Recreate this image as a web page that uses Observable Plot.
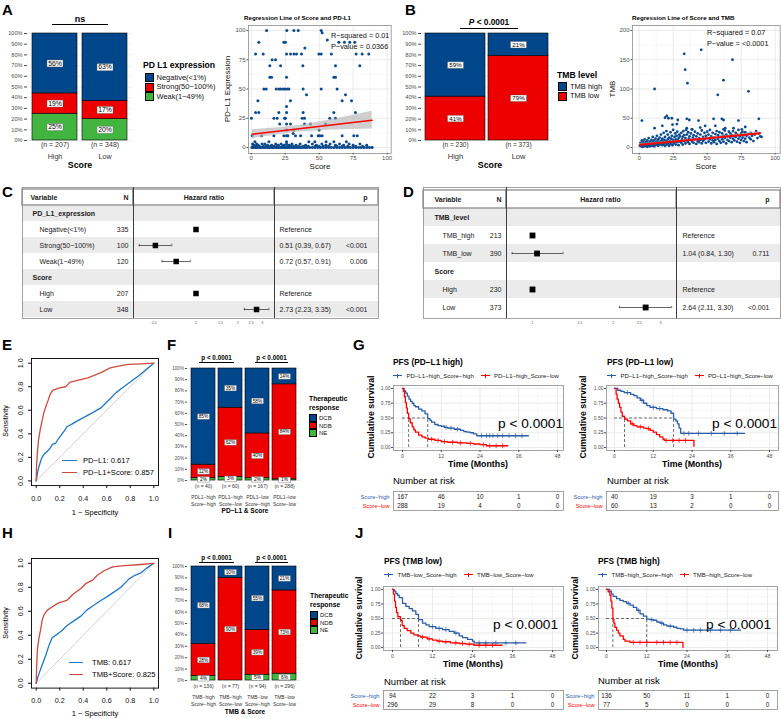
<!DOCTYPE html>
<html>
<head>
<meta charset="utf-8">
<script src="https://cdn.jsdelivr.net/npm/d3@7"></script>
<script src="https://cdn.jsdelivr.net/npm/@observablehq/plot@0.6"></script>
<style>
  html, body { margin: 0; padding: 0; background: #fff; }
  #root { position: relative; width: 781px; height: 719px; overflow: hidden; background: #fff;
          font-family: "Liberation Sans", Arial, Helvetica, sans-serif; color: #000; }
  .t { position: absolute; white-space: nowrap; line-height: 1; }
</style>
</head>
<body>
<div id="root"></div>
<script>
// ======================= DATA =======================
// Panel A : PD-L1 expression by Score group
const scoreGroups = ["High", "Low"];
const pdl1Types = ["Weak(1−49%)", "Strong(50−100%)", "Negative(<1%)"];   // stack bottom -> top
const pdl1Colors = ["#42B540", "#ED0000", "#00468B"];
const pdl1N = [207, 348];
const pdl1Weak = [25, 20];
const pdl1Strong = [19, 17];
const pdl1Negative = [56, 63];
const pdl1LegendLabels = ["Negative(<1%)", "Strong(50−100%)", "Weak(1−49%)"];

// Panel B : TMB level by Score group
const tmbTypes = ["TMB low", "TMB high"];   // bottom -> top
const tmbColors = ["#ED0000", "#00468B"];
const tmbN = [230, 373];
const tmbLow = [41, 79];
const tmbHigh = [59, 21];

// Scatter: Score vs PD-L1 expression
const pdl1Points = [
  [11.3,100],[26.2,100],[31.4,100],[34.6,100],[51.5,100],[52.2,98],[56,92],
  [5.6,90],[24,90],[25.2,90],[64.5,90],[68.6,90],[72.5,90],[76.2,90],[39.5,85],
  [3.2,80],[8.8,80],[26,80],[28.9,80],[31.4,80],[33.3,80],[37,80],[49.8,80],[51.5,80],[59,80],[77.2,80],[81.6,80],[86.5,80],
  [15.4,75],[17.9,75],[13.7,70],[21.6,70],[38,70],[62,70],[79.9,70],
  [13.7,60],[15,60],[26,60],[60.8,60],[62,60],
  [9.3,50],[11,50],[18.4,50],[20.3,50],[21.6,50],[23.3,50],[24.8,50],[26.5,50],[27.7,50],[38.2,50],[51.5,50],[63.2,50],
  [40.7,45],[69.4,45],[4.9,40],[28.9,40],[66.9,40],[73.8,40],[26,35],
  [3.2,30],[5.6,30],[20.3,30],[26,30],[38.2,30],[60.8,30],[76.7,30],
  [0.2,25],[16.7,25],[19.1,25],[24.5,25],[25.2,25],[37.5,25],[39.2,25],[57.8,25],[62,25],
  [21,20],[26,20],[28.9,20],[39.2,20],[43.6,20],[54.7,20],[26,15],[31.4,15],[50,15],[30.9,12],
  [0.7,10],[7.6,10],[16.7,10],[24,10],[26,10],[27,10],[32.6,10],[36.3,10],[44.4,10],[49.3,10],[50.5,10],[52.2,10],[66.9,10],[75.5,10],[78,10],
  [2.7,5],[13,5],[26,5],[42.4,5],[46.8,5],[55.1,5],[60.8,5],[70,5],
  [1,3],[4,3],[8,3],[10,3],[18,3],[22,3],[26,3],[30,3],[36,3],[45,3],[52,3],[58,3],[65,3],[72,3],[80,3],
  [2,2],[5,2],[12,2],[15,2],[20,2],[24,2],[28,2],[33,2],[40,2],[48,2],[55,2],[62,2],[68,2],[75,2],[85,2],
  [1.5,1],[3.5,1],[6,1],[9,1],[11,1],[14,1],[17,1],[19,1],[23,1],[25,1],[27,1],[29,1],[31,1],[35,1],[38,1],[42,1],[47,1],[50,1],[53,1],[57,1],[63,1],[67,1],[71,1],[77,1],[82,1],
  [0.5,0],[1.5,0],[2.5,0],[3.5,0],[4.5,0],[6,0],[7,0],[8,0],[9.5,0],[10.5,0],[12,0],[13,0],[14,0],[15.5,0],[16.5,0],[18,0],[19,0],[20,0],[21.5,0],[22.5,0],
  [24,0],[25,0],[26,0],[27,0],[28,0],[29.5,0],[31,0],[32,0],[33.5,0],[35,0],[36.5,0],[38,0],[39.5,0],[41,0],[43,0],[45,0],[47,0],[49,0],[51,0],[53,0],
  [55,0],[57,0],[59,0],[61,0],[63,0],[65,0],[67,0],[69,0],[71,0],[73,0],[75,0],[77,0],[79,0],[81,0],[83,0],[85,0],[87,0],[89,0]
];
const pdl1Reg = [[0.7, 11.4], [89, 23.4]];
const pdl1Band = [[0.7, 7.6, 15.2], [20, 11, 17], [35, 13.2, 18.8], [60, 14.9, 23.9], [89, 15.9, 30.9]];

// Scatter: Score vs TMB
const tmbPoints = [
  [33.1,160],[45.6,167],[33.8,133],[68.6,150],[35.5,110],[62,115],[11.3,100],[80.4,96],[57.8,90],
  [2,46],[19,51],[20.3,54],[21.5,50],[24,50],[28.4,47],[35,49],[36.8,47],[43.6,46],[54.7,49],[60.8,49],[62,47],[73,46],[88,49],
  [11.3,33],[24.5,39],[17,37],[27.7,40],[35,33],[38.7,31],[44.9,34],[48.5,37],[56,37],[62,31],[63.2,33],[69.4,33],[78,35],[75.5,31],
  [0.5,3],[1,8],[1.5,2],[2,5],[2,12],[2.5,1],[3,6],[3,10],[3.5,4],[4,2],[4,14],[4.5,7],[5,3],[5,9],[5.5,5],[6,12],[6,1],[6.5,8],[7,4],[7,16],
  [7.5,6],[8,10],[8,2],[8.5,5],[9,13],[9,7],[9.5,3],[10,9],[10,18],[10.5,5],
  [11,2],[11,12],[11.5,7],[12,4],[12,15],[12.5,9],[13,20],[13,6],[13.5,11],[14,3],[14,14],[14.5,8],[15,17],[15,5],[15.5,10],[16,22],[16,7],[16.5,12],[17,4],[17,15],
  [17.5,9],[18,25],[18,6],[18.5,13],[19,3],[19,18],[19.5,8],[20,11],[20,28],[20.5,5],
  [21,14],[21,22],[21.5,8],[22,17],[22,3],[22.5,11],[23,26],[23,6],[23.5,15],[24,9],[24,20],[24.5,4],[25,13],[25,30],[25.5,7],[26,18],[26,10],[26.5,24],[27,5],[27,14],
  [27.5,20],[28,9],[28,27],[28.5,12],[29,16],[29,4],[29.5,22],[30,10],[30,19],
  [31,8],[31,25],[31.5,14],[32,5],[32,18],[32.5,28],[33,11],[33,21],[34,7],[34,16],[34.5,30],[35,12],[35,22],[36,9],[36,26],[36.5,15],[37,6],[37,19],[38,13],[38,24],
  [39,10],[39,31],[39.5,17],[40,8],[40,21],
  [41,14],[41,27],[42,6],[42,19],[43,11],[43,24],[44,16],[44,9],[45,22],[45,13],[46,7],[46,29],[47,18],[47,11],[48,25],[48,14],[49,8],[49,20],[50,16],[50,27],
  [51,10],[51,22],[52,14],[52,30],[53,7],[53,19],[54,12],[54,25],[55,17],[55,9],[56,23],[56,13],[57,28],[57,6],[58,15],[58,21],[59,11],[59,26],[60,18],[60,8],
  [61,14],[61,24],[62,20],[62,10],[63,29],[63,16],[64,7],[64,22],[65,13],[65,19],[66,27],[66,11],[67,17],[67,24],[68,9],[68,21],[69,15],[69,28],[70,12],[70,20],
  [71,18],[71,25],[72,10],[72,22],[73,15],[73,30],[74,8],[74,19],[75,24],[75,13],[76,17],[76,27],[77,11],[77,21],[78,26],[78,15],[79,20],[79,9],[80,23],
  [81,17],[82,14],[82,25],[83,20],[84,11],[85,22],[86,28],[87,16],[88,24],[89,19],[90,18]
];
const tmbReg = [[0.7, 4.6], [89, 24.5]];
const tmbBand = [[0.7, 2.4, 6.8], [30, 10.0, 12.4], [60, 16.8, 19.2], [89, 21.9, 27.1]];

// Panel C forest (PD-L1)
const forestCVars = ["PD_L1_expression", "Negative(<1%)", "Strong(50−100%)", "Weak(1−49%)", "Score", "High", "Low"];
const forestCGroup = [true, false, false, false, true, false, false];
const forestCN = [null, 335, 100, 120, null, 207, 348];
const forestCHR = [null, 1, 0.51, 0.72, null, 1, 2.73];
const forestCLo = [null, null, 0.39, 0.57, null, null, 2.23];
const forestCHi = [null, null, 0.67, 0.91, null, null, 3.35];
const forestCP = ["", "", "<0.001", "0.006", "", "", "<0.001"];
const forestCTicks = [0.5, 1, 1.5, 2, 2.5, 3];

// Panel D forest (TMB)
const forestDVars = ["TMB_level", "TMB_high", "TMB_low", "Score", "High", "Low"];
const forestDGroup = [true, false, false, true, false, false];
const forestDN = [null, 213, 390, null, 230, 373];
const forestDHR = [null, 1, 1.04, null, 1, 2.64];
const forestDLo = [null, null, 0.84, null, null, 2.11];
const forestDHi = [null, null, 1.30, null, null, 3.30];
const forestDP = ["", "", "0.711", "", "", "<0.001"];
const forestDTicks = [1, 1.5, 2, 2.5, 3];

// ROC curves [1-specificity, sensitivity]
const rocDiag = [[0, 0], [1, 1]];
const rocTicks = [0, 0.2, 0.4, 0.6, 0.8, 1];
const rocE_PDL1 = [[0,0],[0.01,0.06],[0.02,0.11],[0.035,0.16],[0.05,0.2],[0.07,0.23],[0.093,0.25],[0.12,0.28],[0.137,0.31],[0.165,0.32],[0.19,0.36],[0.22,0.4],[0.25,0.44],[0.26,0.46],[0.3,0.48],[0.35,0.51],[0.405,0.54],[0.48,0.58],[0.55,0.62],[0.62,0.69],[0.68,0.75],[0.73,0.79],[0.8,0.84],[0.88,0.9],[0.94,0.95],[1,1]];
const rocE_Combo = [[0,0],[0.003,0.13],[0.01,0.24],[0.02,0.35],[0.035,0.44],[0.05,0.51],[0.065,0.58],[0.085,0.64],[0.1,0.68],[0.12,0.74],[0.14,0.77],[0.2,0.79],[0.25,0.8],[0.27,0.82],[0.29,0.84],[0.35,0.855],[0.44,0.875],[0.55,0.92],[0.63,0.96],[0.7,0.975],[0.78,0.99],[0.9,0.995],[1,1]];
const rocH_TMB = [[0,0],[0.02,0.07],[0.05,0.15],[0.08,0.23],[0.11,0.32],[0.135,0.38],[0.18,0.41],[0.22,0.44],[0.26,0.48],[0.32,0.52],[0.38,0.56],[0.43,0.61],[0.49,0.65],[0.55,0.69],[0.6,0.72],[0.66,0.76],[0.72,0.8],[0.79,0.87],[0.84,0.9],[0.89,0.92],[0.94,0.96],[1,1]];
const rocH_Combo = [[0,0],[0.004,0.14],[0.01,0.28],[0.024,0.38],[0.038,0.45],[0.052,0.53],[0.066,0.57],[0.095,0.61],[0.14,0.64],[0.19,0.67],[0.26,0.69],[0.31,0.74],[0.38,0.79],[0.42,0.83],[0.48,0.86],[0.52,0.9],[0.58,0.94],[0.65,0.97],[0.75,0.98],[0.89,0.99],[1,1]];

// Panels F / I : therapeutic response
const respTypes = ["NE", "NDB", "DCB"];  // bottom -> top
const respColors = ["#42B540", "#ED0000", "#00468B"];
const respLegend = ["DCB", "NDB", "NE"];
const fGroups = ["PDL1−high\nScore−high", "PDL1−high\nScore−low", "PDL1−low\nScore−high", "PDL1−low\nScore−low"];
const fN = [40, 60, 167, 288];
const fDCB = [85, 35, 58, 14];
const fNDB = [12, 62, 40, 84];
const fNE = [2, 3, 2, 1];
const iGroups = ["TMB−high\nScore−high", "TMB−high\nScore−low", "TMB−low\nScore−high", "TMB−low\nScore−low"];
const iN = [136, 77, 94, 296];
const iDCB = [68, 10, 55, 21];
const iNDB = [28, 90, 39, 73];
const iNE = [4, 0, 5, 6];

// KM curves (time in months, survival)
const kmTicks = [0, 12, 24, 36, 48];
const kmGL_hi_t = [0,0.5,1,1.5,2,2.5,3,3.5,4,5,6,7,7.8,8.5,9,10,11,12,13,14,16,18,19,20,21,22,23,39];
const kmGL_hi_s = [1,0.96,0.92,0.87,0.82,0.78,0.75,0.71,0.69,0.65,0.62,0.57,0.49,0.46,0.43,0.39,0.37,0.36,0.34,0.33,0.31,0.29,0.27,0.26,0.25,0.23,0.20,0.20];
const kmGL_lo_t = [0,0.3,0.6,0.9,1.2,1.5,1.9,2.4,3,3.5,4,5,6,7,8,10,12,14,17,20,22,24,26,32.6];
const kmGL_lo_s = [1,0.95,0.86,0.76,0.67,0.58,0.49,0.42,0.35,0.30,0.26,0.21,0.18,0.16,0.14,0.12,0.10,0.09,0.08,0.07,0.06,0.05,0.03,0.03];
const kmGL_hi_cens = [13.5,15,17,24.5,26,27,28,29.5,31,33,35,37];
const kmGL_lo_cens = [9,11,13,15.5,18,21,25,27,29,31];
const kmGL_medians = [7.8, 1.9];

const kmGR_hi_t = [0,1,2,3,5,6,7,8,9,10,11,13,15,16.5,17.5,18.3,19,19.5,20,20.5,40.3];
const kmGR_hi_s = [1,0.97,0.95,0.93,0.90,0.88,0.84,0.80,0.75,0.71,0.68,0.66,0.64,0.62,0.58,0.48,0.45,0.40,0.33,0.24,0.24];
const kmGR_lo_t = [0,0.5,0.8,1.2,1.6,2,2.4,3.1,4,5,6,7,9,10,11,12,13,14,15,15.5,24.6];
const kmGR_lo_s = [1,0.9,0.82,0.75,0.68,0.6,0.53,0.48,0.45,0.40,0.37,0.35,0.33,0.32,0.29,0.26,0.22,0.18,0.14,0.12,0.02];
const kmGR_hi_cens = [4,8.5,12,14,21.5,23,26,30,34,38];
const kmGR_lo_cens = [5.5,8,10.5,16,18,20,22];
const kmGR_medians = [18.3, 3.1];

const kmJL_hi_t = [0,0.5,1,1.5,2,3,4,5,6,7,7.8,9,10,11,13,15,17,18.5,20,21,22.5,24,24.5,40];
const kmJL_hi_s = [1,0.97,0.93,0.9,0.86,0.76,0.71,0.67,0.63,0.57,0.48,0.42,0.39,0.36,0.33,0.31,0.28,0.25,0.2,0.17,0.14,0.11,0.08,0.08];
const kmJL_lo_t = [0,0.3,0.6,0.9,1.2,1.6,2.4,2.9,3.5,4.4,5.5,6.4,7.5,8.4,10.4,12,13.4,15,17.4,20,22,24.4,32.9];
const kmJL_lo_s = [1,0.92,0.8,0.69,0.6,0.53,0.47,0.38,0.33,0.29,0.25,0.22,0.2,0.18,0.15,0.13,0.11,0.1,0.08,0.07,0.06,0.04,0.04];
const kmJL_hi_cens = [12,14,16,19,26,28,31,34,37];
const kmJL_lo_cens = [9,11,14,16,19,21,23,26,28,30];
const kmJL_medians = [7.8, 2.4];

const kmJR_hi_t = [0,1,1.5,2,3,4,5,6,7,8,9,10,11,12,13,14,15,16,17,18,20,21,22,23,40];
const kmJR_hi_s = [1,0.97,0.92,0.88,0.84,0.81,0.79,0.76,0.73,0.69,0.64,0.58,0.54,0.49,0.48,0.47,0.44,0.42,0.39,0.37,0.35,0.33,0.32,0.30,0.30];
const kmJR_lo_t = [0,0.5,1,1.3,1.6,1.9,2.2,2.5,3,3.5,4,5,5.5,7,22.8];
const kmJR_lo_s = [1,0.96,0.9,0.8,0.68,0.49,0.42,0.35,0.3,0.25,0.2,0.14,0.11,0.09,0.0];
const kmJR_hi_cens = [6.5,9.5,13.5,16.5,19,24,26,28,31,34,37];
const kmJR_lo_cens = [8,10,12,15,17,19,21];
const kmJR_medians = [12, 1.9];

// Numbers at risk at 0, 12, 24, 36, 48 months
const riskGL_high = [167, 46, 10, 1, 0], riskGL_low = [288, 19, 4, 0, 0];
const riskGR_high = [40, 19, 3, 1, 0],   riskGR_low = [60, 13, 2, 0, 0];
const riskJL_high = [94, 22, 3, 1, 0],   riskJL_low = [296, 29, 8, 0, 0];
const riskJR_high = [136, 50, 11, 1, 0], riskJR_low = [77, 5, 0, 0, 0];

// ======================= HELPERS =======================
const FONT = '"Liberation Sans", Arial, Helvetica, sans-serif';
const root = document.getElementById("root");
const kmBlue = "#2b5ea8", kmRed = "#ff0000";
const rocBlue = "#1f78c4", rocRed = "#cc4b3c";
const dotBlue = "#0c4a8e";

function txt(s, x, y, o = {}) {
  const d = document.createElement("div");
  d.className = "t";
  if (o.html) d.innerHTML = s; else d.textContent = s;
  d.style.left = x + "px"; d.style.top = y + "px";
  d.style.fontSize = (o.size || 7) + "px";
  d.style.fontWeight = o.bold ? "bold" : "normal";
  d.style.color = o.color || "#000";
  const ax = o.anchor === "middle" ? "-50%" : o.anchor === "end" ? "-100%" : "0";
  d.style.transform = `translate(${ax},-50%)` + (o.rotate ? ` rotate(${o.rotate}deg)` : "");
  root.appendChild(d);
  return d;
}
function hline(x1, x2, y, color = "#000", w = 1, dash = false) {
  const d = document.createElement("div");
  Object.assign(d.style, {position: "absolute", left: x1 + "px", top: (y - w / 2) + "px", width: (x2 - x1) + "px", height: "0px",
    borderTop: `${w}px ${dash ? "dashed" : "solid"} ${color}`});
  root.appendChild(d);
}
function vtick(x, y, color, h = 3.6, w = 0.8) {
  const d = document.createElement("div");
  Object.assign(d.style, {position: "absolute", left: (x - w / 2) + "px", top: (y - h / 2) + "px", width: w + "px", height: h + "px", background: color});
  root.appendChild(d);
}
function box(x, y, w, h, fill, stroke = "#000", sw = 0.7) {
  const d = document.createElement("div");
  Object.assign(d.style, {position: "absolute", left: x + "px", top: y + "px", width: w + "px", height: h + "px",
    background: fill, border: `${sw}px solid ${stroke}`, boxSizing: "border-box"});
  root.appendChild(d);
}
function place(fx0, fy0, fx1, fy1, [l, t, r, b], opts) {
  const svg = Plot.plot({
    ...opts,
    width: fx1 - fx0 + l + r,
    height: fy1 - fy0 + t + b,
    marginLeft: l, marginTop: t, marginRight: r, marginBottom: b,
    style: {fontFamily: FONT, fontSize: "6px", background: "none", overflow: "visible", color: "#000"}
  });
  Object.assign(svg.style, {position: "absolute", left: (fx0 - l) + "px", top: (fy0 - t) + "px", maxWidth: "none"});
  root.appendChild(svg);
  return svg;
}
function rectSymbol(w, h) {
  return {draw(c) { c.moveTo(-w / 2, -h / 2); c.lineTo(w / 2, -h / 2); c.lineTo(w / 2, h / 2); c.lineTo(-w / 2, h / 2); c.closePath(); }};
}
function stepAt(T, S, t) { let s = S[0]; for (let i = 0; i < T.length; i++) if (T[i] <= t) s = S[i]; return s; }

// ---------- stacked percentage bars ----------
function stackedBars(cfg) {
  const rows = [];
  cfg.groups.forEach((g, gi) => cfg.types.forEach((ty, ti) => {
    const v = cfg.values[ti][gi];
    if (v > 0) rows.push({group: g, type: ty, value: v});
  }));
  const st = (o) => Plot.stackY({x: "group", y: "value", z: "type", order: cfg.types, offset: "normalize", ...o});
  const [x0, y0, x1, y1] = cfg.frame;
  place(x0, y0, x1, y1, cfg.margin, {
    x: {type: "band", domain: cfg.groups, paddingInner: cfg.padIn, paddingOuter: cfg.padOut, axis: null},
    y: {domain: [0, 1], axis: null},
    color: {domain: cfg.types, range: cfg.colors},
    marks: [
      Plot.gridY({ticks: d3.range(0.05, 1, 0.1), stroke: "#f3f3f3", strokeOpacity: 1, strokeWidth: 0.5}),
      Plot.gridY({ticks: d3.range(0, 1.0001, 0.1), stroke: "#e6e6e6", strokeOpacity: 1, strokeWidth: 0.6}),
      Plot.barY(rows, st({fill: "type", stroke: "#000", strokeWidth: 0.6})),
      Plot.dot(rows, st({symbol: rectSymbol(cfg.box[0], cfg.box[1]), fill: "white", stroke: "#555", strokeWidth: 0.4})),
      Plot.text(rows, st({text: d => d.value + "%", fontSize: cfg.labelFont, fill: "#000"})),
      Plot.axisY({ticks: d3.range(0, 1.0001, 0.1), tickFormat: d => Math.round(d * 100) + "%", tickSize: cfg.tickSize,
        tickPadding: cfg.tickPad, fontSize: cfg.tickFont, color: "#4d4d4d", label: null}),
      Plot.text(cfg.groups, {x: d => d, text: (d, i) => `(n = ${cfg.ns[i]})`, frameAnchor: "bottom", dy: cfg.nDy,
        fontSize: cfg.nFont, fill: "#333"}),
      Plot.text(cfg.groups, {x: d => d, text: d => d, frameAnchor: "bottom", dy: cfg.gDy, lineAnchor: "top",
        lineHeight: cfg.lineHeight, fontSize: cfg.gFont, fill: "#333"})
    ]
  });
}

// ---------- scatter with regression ----------
function scatter(cfg) {
  const [x0, y0, x1, y1] = cfg.frame;
  place(x0, y0, x1, y1, [16, 2, 3, 14], {
    x: {domain: cfg.xDomain, axis: null},
    y: {domain: cfg.yDomain, axis: null},
    marks: [
      Plot.gridX({ticks: [12.5, 37.5, 62.5, 87.5], stroke: "#f2f2f2", strokeOpacity: 1, strokeWidth: 0.5}),
      Plot.gridY({ticks: cfg.yMinor, stroke: "#f2f2f2", strokeOpacity: 1, strokeWidth: 0.5}),
      Plot.gridX({ticks: [0, 25, 50, 75, 100], stroke: "#e3e3e3", strokeOpacity: 1, strokeWidth: 0.7}),
      Plot.gridY({ticks: cfg.yTicks, stroke: "#e3e3e3", strokeOpacity: 1, strokeWidth: 0.7}),
      Plot.frame({stroke: "#8c8c8c", strokeWidth: 0.8}),
      Plot.dot(cfg.points, {x: d => d[0], y: d => d[1], r: cfg.r, fill: dotBlue, stroke: "none"}),
      Plot.areaY(cfg.band, {x: d => d[0], y1: d => d[1], y2: d => d[2], fill: "#b5b5b5", fillOpacity: 0.65}),
      Plot.line(cfg.reg, {x: d => d[0], y: d => d[1], stroke: "#ff0000", strokeWidth: cfg.lw}),
      Plot.axisX({ticks: [0, 25, 50, 75, 100], tickSize: 1.5, tickPadding: 0.5, fontSize: 6, color: "#4d4d4d", label: null}),
      Plot.axisY({ticks: cfg.yTicks, tickSize: 1.5, tickPadding: 1.5, fontSize: 6, color: "#4d4d4d", label: null})
    ]
  });
}

// ---------- forest plot ----------
function forest(cfg) {
  const keys = cfg.vars.map((_, i) => "r" + i);
  const rows = cfg.vars.map((v, i) => ({key: keys[i], v, grp: cfg.group[i], n: cfg.N[i], hr: cfg.hr[i], lo: cfg.lo[i], hi: cfg.hi[i], p: cfg.p[i]}));
  const yDom = ["hdr", ...keys];
  const step = (cfg.yBot - cfg.yTop) / yDom.length;
  const y = {type: "band", domain: yDom, padding: 0, axis: null};
  const stripes = rows.filter((d, i) => i % 2 === 0);
  const F = cfg.font;
  const base = () => [
    Plot.cell(stripes, {y: "key", fill: "#ebebeb"}),
    Plot.cell(["hdr"], {y: d => d, fill: "white", stroke: "#8c8c8c", strokeWidth: 1.3}),
    Plot.frame({stroke: "#8c8c8c", strokeWidth: 0.8})
  ];
  const tc = "#1a1a1a";
  // left text block
  place(cfg.xA, cfg.yTop, cfg.xB, cfg.yBot, [2, 2, 2, 2], {
    y,
    marks: [...base(),
      Plot.text(["hdr"], {y: d => d, text: () => "Variable", frameAnchor: "left", dx: cfg.dxHdr, textAnchor: "start", fontWeight: "bold", fontSize: F, fill: tc}),
      Plot.text(["hdr"], {y: d => d, text: () => "N", frameAnchor: "right", dx: cfg.dxN, textAnchor: "end", fontWeight: "bold", fontSize: F, fill: tc}),
      Plot.text(rows.filter(d => d.grp), {y: "key", text: "v", frameAnchor: "left", dx: cfg.dxGrp, textAnchor: "start", fontWeight: "bold", fontSize: F, fill: tc}),
      Plot.text(rows.filter(d => !d.grp), {y: "key", text: "v", frameAnchor: "left", dx: cfg.dxItem, textAnchor: "start", fontSize: F, fill: tc}),
      Plot.text(rows.filter(d => d.n != null), {y: "key", text: d => String(d.n), frameAnchor: "right", dx: cfg.dxN, textAnchor: "end", fontSize: F, fill: tc})
    ]
  });
  // right text block
  place(cfg.xC, cfg.yTop, cfg.xD, cfg.yBot, [2, 2, 2, 2], {
    y,
    marks: [...base(),
      Plot.text(["hdr"], {y: d => d, text: () => "p", frameAnchor: "right", dx: cfg.dxP, textAnchor: "end", fontWeight: "bold", fontSize: F, fill: tc}),
      Plot.text(rows.filter(d => d.hr != null), {y: "key",
        text: d => d.lo == null ? "Reference" : `${d.hr.toFixed(2)} (${d.lo.toFixed(2)}, ${d.hi.toFixed(2)})`,
        frameAnchor: "left", dx: cfg.dxHRt, textAnchor: "start", fontSize: F, fill: tc}),
      Plot.text(rows.filter(d => d.p), {y: "key", text: "p", frameAnchor: "right", dx: cfg.dxP, textAnchor: "end", fontSize: F, fill: tc})
    ]
  });
  // middle hazard ratio block (log scale)
  const xDom = [2 ** ((cfg.xB - cfg.one) / cfg.k), 2 ** ((cfg.xC - cfg.one) / cfg.k)];
  const ci = rows.filter(d => d.lo != null);
  place(cfg.xB, cfg.yTop, cfg.xC, cfg.yBot, [2, 2, 2, 12], {
    y,
    x: {type: "log", domain: xDom, axis: null},
    marks: [...base(),
      Plot.ruleX(rows, {x: () => 1, y: "key", stroke: "#333", strokeWidth: 0.6, strokeDasharray: "1.6,1.4"}),
      Plot.ruleY(ci, {x1: "lo", x2: "hi", y: "key", stroke: "#222", strokeWidth: 0.7}),
      Plot.tickX(ci, {x: "lo", y: "key", stroke: "#222", strokeWidth: 0.6, insetTop: step / 2 - 1.5, insetBottom: step / 2 - 1.5}),
      Plot.tickX(ci, {x: "hi", y: "key", stroke: "#222", strokeWidth: 0.6, insetTop: step / 2 - 1.5, insetBottom: step / 2 - 1.5}),
      Plot.dot(rows.filter(d => d.hr != null), {x: "hr", y: "key", symbol: "square", r: cfg.sq, fill: "#000", stroke: "none"}),
      Plot.ruleX(xDom, {stroke: "#333", strokeWidth: 0.9}),
      Plot.text(["hdr"], {y: d => d, text: () => "Hazard ratio", frameAnchor: "middle", dx: cfg.dxHR, fontWeight: "bold", fontSize: F, fill: tc}),
      Plot.axisX({ticks: cfg.ticks, tickFormat: d => String(d), tickSize: 0, tickPadding: 3, fontSize: 3.6, color: "#555", label: null})
    ]
  });
}

// ---------- ROC ----------
function roc(cfg) {
  const [x0, y0, x1, y1] = cfg.frame;
  place(x0, y0, x1, y1, [30, 4, 4, 22], {
    x: {domain: [-0.04, 1.04], axis: null},
    y: {domain: [-0.04, 1.04], axis: null},
    marks: [
      Plot.line(rocDiag, {x: d => d[0], y: d => d[1], stroke: "#c8c8c8", strokeWidth: 0.8}),
      Plot.line(cfg.blue, {x: d => d[0], y: d => d[1], stroke: rocBlue, strokeWidth: 1.3}),
      Plot.line(cfg.red, {x: d => d[0], y: d => d[1], stroke: rocRed, strokeWidth: 1.3}),
      Plot.frame({stroke: "#000", strokeWidth: 0.9}),
      Plot.axisX({ticks: rocTicks, tickFormat: d3.format(".1f"), tickSize: 3, tickPadding: 7, fontSize: 7.2, color: "#111", label: null}),
      Plot.axisY({ticks: rocTicks, tickFormat: d3.format(".1f"), tickSize: 3, tickPadding: 6, tickRotate: -90, fontSize: 7.2, color: "#111", label: null})
    ]
  });
}

// ---------- Kaplan-Meier ----------
function km(cfg) {
  const [x0, y0, x1, y1] = cfg.frame;
  const ppm = (cfg.p48 - cfg.p0) / 48;
  const xd = [(x0 - cfg.p0) / ppm, (x1 - cfg.p0) / ppm];
  const marks = [
    Plot.gridX({ticks: [6, 18, 30, 42], stroke: "#f0f0f0", strokeOpacity: 1, strokeWidth: 0.5}),
    Plot.gridY({ticks: [0.125, 0.375, 0.625, 0.875], stroke: "#f0f0f0", strokeOpacity: 1, strokeWidth: 0.5}),
    Plot.gridX({ticks: kmTicks, stroke: "#e2e2e2", strokeOpacity: 1, strokeWidth: 0.7}),
    Plot.gridY({ticks: [0, 0.25, 0.5, 0.75, 1], stroke: "#e2e2e2", strokeOpacity: 1, strokeWidth: 0.7}),
    Plot.frame({stroke: "#8c8c8c", strokeWidth: 0.8}),
    Plot.ruleY([0.5], {x1: 0, x2: d3.max(cfg.medians), stroke: "#333", strokeWidth: 0.7, strokeDasharray: "3,2"}),
    Plot.ruleX(cfg.medians, {y1: 0, y2: 0.5, stroke: "#333", strokeWidth: 0.7, strokeDasharray: "3,2"})
  ];
  for (const c of cfg.curves) {
    const pts = c.t.map((t, i) => [t, c.s[i]]);
    marks.push(Plot.line(pts, {x: d => d[0], y: d => d[1], curve: "step-after", stroke: c.color, strokeWidth: 1.3}));
    const cens = c.cens.map(t => [t, stepAt(c.t, c.s, t)]);
    marks.push(Plot.dot(cens, {x: d => d[0], y: d => d[1], symbol: "plus", r: 1.7, stroke: c.color, strokeWidth: 0.7}));
  }
  marks.push(
    Plot.axisX({ticks: kmTicks, tickSize: 2, tickPadding: 1.5, fontSize: 5.2, color: "#4d4d4d", label: null}),
    Plot.axisY({ticks: [0, 0.25, 0.5, 0.75, 1], tickFormat: d3.format(".2f"), tickSize: 2, tickPadding: 1, fontSize: 5, color: "#4d4d4d", label: null})
  );
  place(x0, y0, x1, y1, [20, 4, 4, 22], {x: {domain: xd, axis: null}, y: {domain: [-0.05, 1.05], axis: null}, marks});
  return xd;
}
function risk(cfg) {
  const [x0, y0, x1, y1] = cfg.frame;
  const rows = [];
  kmTicks.forEach((t, i) => { rows.push({t, g: "high", n: cfg.high[i]}); rows.push({t, g: "low", n: cfg.low[i]}); });
  place(x0, y0, x1, y1, [45, 2, 4, 2], {
    x: {domain: cfg.xd, axis: null},
    y: {type: "band", domain: ["high", "low"], padding: 0, axis: null},
    marks: [
      Plot.gridX({ticks: kmTicks, stroke: "#ededed", strokeOpacity: 1, strokeWidth: 0.6}),
      Plot.frame({stroke: "#8c8c8c", strokeWidth: 0.8}),
      Plot.text(rows, {x: "t", y: "g", text: d => String(d.n), fontSize: 6.3, fill: "#222"}),
      Plot.text(["high"], {y: d => d, text: () => "Score−high", frameAnchor: "left", dx: -4, textAnchor: "end", fill: kmBlue, fontSize: 5.7}),
      Plot.text(["low"], {y: d => d, text: () => "Score−low", frameAnchor: "left", dx: -4, textAnchor: "end", fill: kmRed, fontSize: 5.7})
    ]
  });
}
function kmLegend(x, y, items) {
  let cx = x;
  for (const [label, color] of items) {
    hline(cx, cx + 9, y, color, 1.3);
    vtick(cx + 4.5, y, color);
    const d = txt(label, cx + 13.5, y, {size: 6, color: "#222"});
    cx = cx + 13.5 + d.offsetWidth + 7;
  }
}

// ======================= BUILD =======================
// A
stackedBars({frame: [27, 33, 132, 140], margin: [27, 4, 4, 30], groups: scoreGroups, types: pdl1Types, colors: pdl1Colors,
  values: [pdl1Weak, pdl1Strong, pdl1Negative], ns: pdl1N, padIn: 0.1, padOut: 0.1, box: [16, 7], labelFont: 6.8,
  tickFont: 5.6, tickSize: 3, tickPad: 2, nDy: 6.5, nFont: 7, gDy: 13.5, gFont: 7.1, lineHeight: 1});
scatter({frame: [248.3, 25, 391, 153], xDomain: [-2, 103], yDomain: [-5.1, 104.3], yTicks: [0, 25, 50, 75, 100],
  yMinor: [12.5, 37.5, 62.5, 87.5], points: pdl1Points, reg: pdl1Reg, band: pdl1Band, r: 1.5, lw: 1.5});
// B
stackedBars({frame: [421, 33, 552, 140], margin: [27, 4, 4, 30], groups: scoreGroups, types: tmbTypes, colors: tmbColors,
  values: [tmbLow, tmbHigh], ns: tmbN, padIn: 0.0476, padOut: 0.063, box: [16, 6.5], labelFont: 6.2,
  tickFont: 5.6, tickSize: 3, tickPad: 2, nDy: 6.5, nFont: 6.5, gDy: 13.5, gFont: 7.5, lineHeight: 1});
scatter({frame: [632.3, 25, 780, 153], xDomain: [-4.93, 103.7], yDomain: [-10.26, 208.5], yTicks: [0, 50, 100, 150, 200],
  yMinor: [25, 75, 125, 175], points: tmbPoints, reg: tmbReg, band: tmbBand, r: 1.4, lw: 2});
// C
forest({vars: forestCVars, group: forestCGroup, N: forestCN, hr: forestCHR, lo: forestCLo, hi: forestCHi, p: forestCP,
  xA: 22, xB: 133, xC: 274, xD: 378, yTop: 187, yBot: 318, one: 195.5, k: 41.8, ticks: forestCTicks,
  font: 7, dxHdr: 8, dxGrp: 10, dxItem: 17, dxN: -5, dxHRt: 5, dxP: -11, dxHR: 0, sq: 3.1});
// D
forest({vars: forestDVars, group: forestDGroup, N: forestDN, hr: forestDHR, lo: forestDLo, hi: forestDHi, p: forestDP,
  xA: 423, xB: 506, xC: 676, xD: 780, yTop: 187, yBot: 318, one: 532, k: 80.8, ticks: forestDTicks,
  font: 7, dxHdr: 11, dxGrp: 11, dxItem: 19, dxN: -5, dxHRt: 6, dxP: -11, dxHR: 9, sq: 3.3});
// E, H
roc({frame: [31, 357.6, 158, 484.7], blue: rocE_PDL1, red: rocE_Combo});
roc({frame: [31, 558.2, 158, 687.8], blue: rocH_TMB, red: rocH_Combo});
// F, I
stackedBars({frame: [187, 368, 301, 480], margin: [14, 4, 3, 34], groups: fGroups, types: respTypes, colors: respColors,
  values: [fNE, fNDB, fDCB], ns: fN, padIn: 0.0964, padOut: 0.108, box: [12, 5.6], labelFont: 4.8,
  tickFont: 4.6, tickSize: 2, tickPad: 1.5, nDy: 7, nFont: 5, gDy: 13.5, gFont: 4.9, lineHeight: 1.43});
stackedBars({frame: [187, 566, 301, 680], margin: [14, 4, 3, 34], groups: iGroups, types: respTypes, colors: respColors,
  values: [iNE, iNDB, iDCB], ns: iN, padIn: 0.0964, padOut: 0.108, box: [12, 5.6], labelFont: 4.8,
  tickFont: 4.6, tickSize: 2, tickPad: 1.5, nDy: 7, nFont: 5, gDy: 13.5, gFont: 4.9, lineHeight: 1.43});
// G
const xdGL = km({frame: [393, 385, 563, 450], p0: 402, p48: 557, medians: kmGL_medians, curves: [
  {t: kmGL_hi_t, s: kmGL_hi_s, cens: kmGL_hi_cens, color: kmBlue}, {t: kmGL_lo_t, s: kmGL_lo_s, cens: kmGL_lo_cens, color: kmRed}]});
risk({frame: [393, 491, 563, 510], xd: xdGL, high: riskGL_high, low: riskGL_low});
const xdGR = km({frame: [606, 385, 778, 450], p0: 614, p48: 769, medians: kmGR_medians, curves: [
  {t: kmGR_hi_t, s: kmGR_hi_s, cens: kmGR_hi_cens, color: kmBlue}, {t: kmGR_lo_t, s: kmGR_lo_s, cens: kmGR_lo_cens, color: kmRed}]});
risk({frame: [606, 491, 778, 510], xd: xdGR, high: riskGR_high, low: riskGR_low});
// J
const xdJL = km({frame: [383, 586, 563, 650], p0: 392, p48: 552, medians: kmJL_medians, curves: [
  {t: kmJL_hi_t, s: kmJL_hi_s, cens: kmJL_hi_cens, color: kmBlue}, {t: kmJL_lo_t, s: kmJL_lo_s, cens: kmJL_lo_cens, color: kmRed}]});
risk({frame: [383, 690, 563, 709], xd: xdJL, high: riskJL_high, low: riskJL_low});
const xdJR = km({frame: [598, 586, 777, 650], p0: 606, p48: 767, medians: kmJR_medians, curves: [
  {t: kmJR_hi_t, s: kmJR_hi_s, cens: kmJR_hi_cens, color: kmBlue}, {t: kmJR_lo_t, s: kmJR_lo_s, cens: kmJR_lo_cens, color: kmRed}]});
risk({frame: [598, 690, 777, 709], xd: xdJR, high: riskJR_high, low: riskJR_low});

// ======================= TEXT =======================
const L = (s, x, y) => txt(s, x, y, {size: 15, bold: true});
L("A", 2, 8.5); L("B", 405, 8.5); L("C", 2, 190.5); L("D", 403, 191); L("E", 2, 343.5); L("F", 167, 343.5);
L("G", 353, 343.5); L("H", 2, 531.5); L("I", 168, 531.5); L("J", 355, 531.5);

// A
txt("ns", 80, 19, {size: 9, bold: true, anchor: "middle"}); hline(52, 108, 24.5, "#000", 0.8);
txt("Score", 80, 164.5, {size: 8.8, bold: true, anchor: "middle"});
txt("PD L1 expression", 143, 65, {size: 8.6, bold: true});
pdl1LegendLabels.forEach((lab, i) => {
  box(145, 73 + i * 9.5, 8.5, 9, pdl1Colors[pdl1Types.indexOf(lab)], "#000", 0.7);
  txt(lab, 156.5, 77.7 + i * 9.5, {size: 7.5, color: "#111"});
});
txt("Regression Line of Score and PD-L1", 244, 18, {size: 6.2, bold: true});
txt("R−squared = 0.01", 331, 36, {size: 7.3, color: "#111"});
txt("P−value = 0.0366", 331, 47, {size: 7.3, color: "#111"});
txt("PD−L1 Expression", 228, 89, {size: 8, rotate: -90, anchor: "middle", color: "#111"});
txt("Score", 320, 166.5, {size: 8, anchor: "middle", color: "#111"});

// B
txt("<i>P</i> &lt; 0.0001", 489, 22, {size: 8.3, bold: true, anchor: "middle", html: true}); hline(460, 518, 28, "#000", 0.8);
txt("Score", 490, 164.5, {size: 8.8, bold: true, anchor: "middle"});
txt("TMB level", 557, 75, {size: 8.6, bold: true});
box(558, 82, 9, 9, tmbColors[1], "#000", 0.7); txt("TMB high", 570, 86.5, {size: 7.5, color: "#111"});
box(558, 91.5, 9, 9, tmbColors[0], "#000", 0.7); txt("TMB low", 570, 96, {size: 7.5, color: "#111"});
txt("Regression Line of Score and TMB", 632, 18, {size: 6.2, bold: true});
txt("R−squared = 0.07", 707, 33, {size: 7.3, color: "#111"});
txt("P−value = <0.0001", 707, 44, {size: 7.3, color: "#111"});
txt("TMB", 613, 89, {size: 8, rotate: -90, anchor: "middle", color: "#111"});
txt("Score", 706, 166.5, {size: 8, anchor: "middle", color: "#111"});

// E / H
txt("Sensitivity", 5, 421, {size: 7, rotate: -90, anchor: "middle"});
txt("1 − Specificity", 95, 513, {size: 7.5, anchor: "middle"});
hline(62, 77, 461, rocBlue, 1.6); txt("PD−L1: 0.617", 83, 461, {size: 7.6});
hline(62, 77, 473, rocRed, 1.6); txt("PD−L1+Score: 0.857", 83, 473, {size: 7.6});
txt("Sensitivity", 5, 623, {size: 7, rotate: -90, anchor: "middle"});
txt("1 − Specificity", 95, 714, {size: 7.5, anchor: "middle"});
hline(69, 83, 663, rocBlue, 1.6); txt("TMB: 0.617", 92, 663, {size: 7.6});
hline(69, 83, 675, rocRed, 1.6); txt("TMB+Score: 0.825", 92, 675, {size: 7.6});

// F / I
function pLabels(y) {
  txt("p < 0.0001", 216.5, y, {size: 6.3, bold: true, anchor: "middle"}); hline(199, 234, y + 4.5, "#000", 0.7);
  txt("p < 0.0001", 271.5, y, {size: 6.3, bold: true, anchor: "middle"}); hline(255, 288, y + 4.5, "#000", 0.7);
}
pLabels(358); pLabels(557.5);
txt("PD−L1 & Score", 245, 511, {size: 6.5, bold: true, anchor: "middle"});
txt("TMB & Score", 245, 712, {size: 6.5, bold: true, anchor: "middle"});
function respLegendAt(x, y) {
  txt("Therapeutic", x, y, {size: 6.8, bold: true});
  txt("response", x, y + 8.5, {size: 6.8, bold: true});
  respLegend.forEach((lab, i) => {
    box(x, y + 15 + i * 7.5, 8, 7.5, respColors[respTypes.indexOf(lab)], "#000", 0.6);
    txt(lab, x + 10, y + 19 + i * 7.5, {size: 6, color: "#111"});
  });
}
respLegendAt(309, 399); respLegendAt(310, 596);

// G / J text
function kmText(c) {
  txt(c.title, c.tx, c.ty, {size: 8.3, bold: true});
  kmLegend(c.tx, c.ty + 14, c.legend);
  txt("Cumulative survival", c.cx, c.cy, {size: 8.8, bold: true, rotate: -90, anchor: "middle"});
  txt("Time (Months)", c.mx, c.my, {size: 8.8, bold: true, anchor: "middle"});
  txt("p < 0.0001", c.px, c.py, {size: 13.7});
  txt("Number at risk", c.nx, c.ny, {size: 9.5});
}
kmText({title: "PFS (PD−L1 high)", tx: 393, ty: 362, legend: [["PD−L1−high_Score−high", kmBlue], ["PD−L1−high_Score−low", kmRed]],
  cx: 371, cy: 417, mx: 478, my: 464, px: 498, py: 424, nx: 393, ny: 481});
kmText({title: "PFS (PD−L1 low)", tx: 607, ty: 362, legend: [["PD−L1−high_Score−high", kmBlue], ["PD−L1−high_Score−low", kmRed]],
  cx: 583, cy: 417, mx: 692, my: 464, px: 712, py: 424, nx: 607, ny: 481});
kmText({title: "PFS (TMB low)", tx: 384, ty: 561, legend: [["TMB−low_Score−high", kmBlue], ["TMB−low_Score−low", kmRed]],
  cx: 359, cy: 618, mx: 473, my: 664, px: 493, py: 625, nx: 384, ny: 682});
kmText({title: "PFS (TMB high)", tx: 598, ty: 561, legend: [["TMB−high_Score−high", kmBlue], ["TMB−high_Score−low", kmRed]],
  cx: 575, cy: 618, mx: 688, my: 664, px: 706, py: 625, nx: 598, ny: 681});
</script>
</body>
</html>
